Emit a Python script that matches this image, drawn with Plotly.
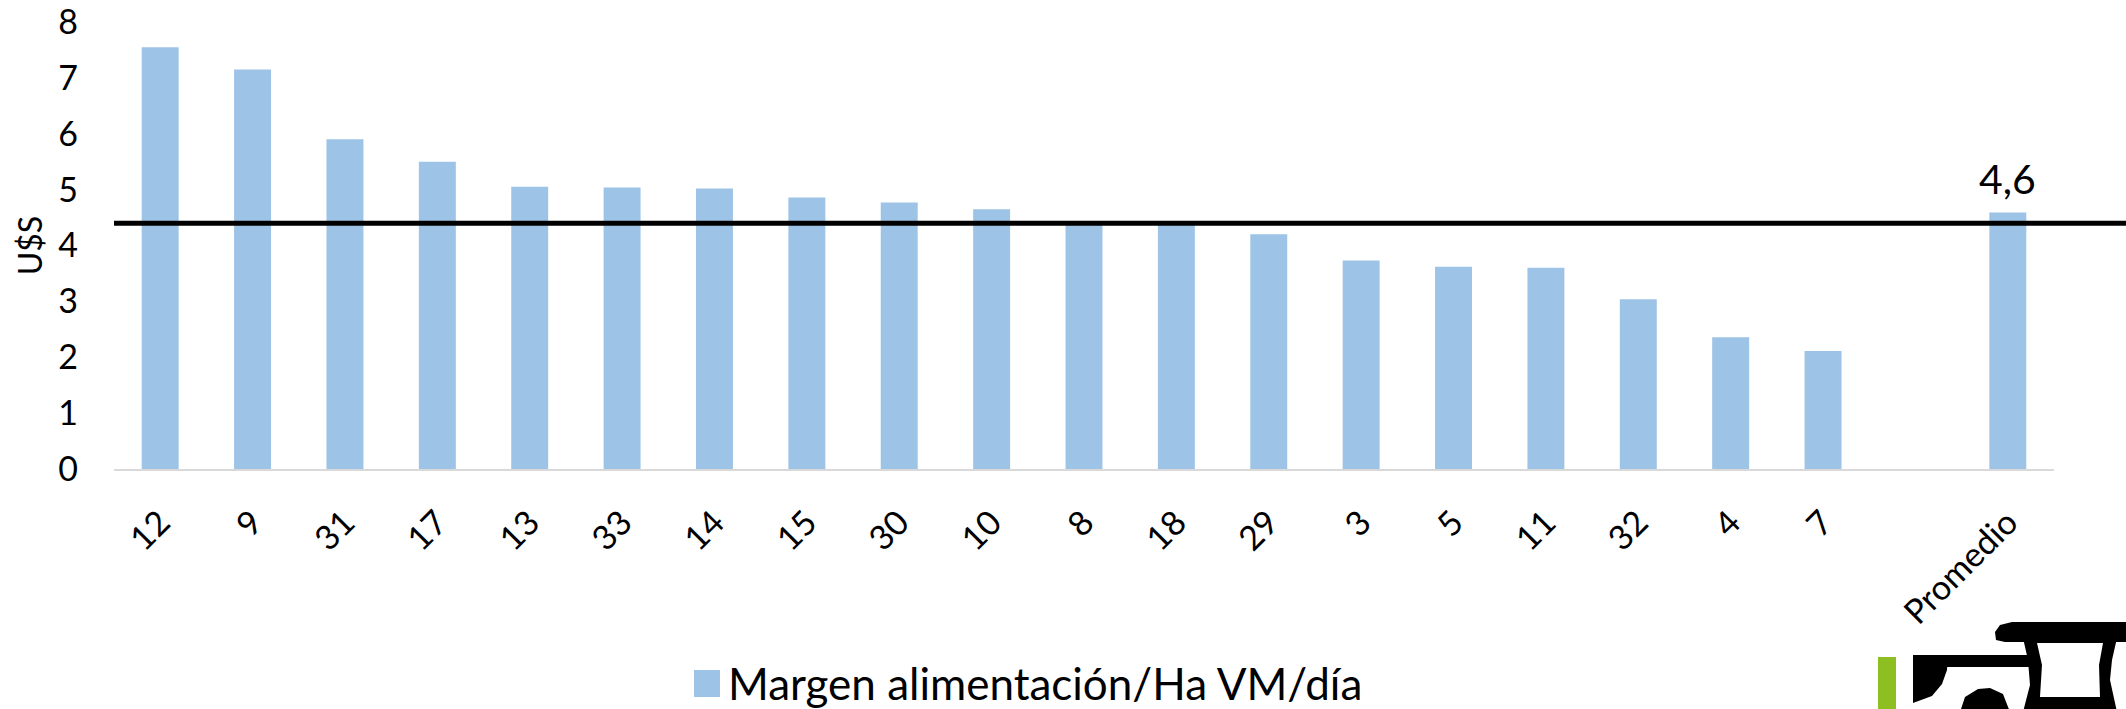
import plotly.graph_objects as go

# ---- data ----
categories = ["12", "9", "31", "17", "13", "33", "14", "15", "30", "10",
              "8", "18", "29", "3", "5", "11", "32", "4", "7", " ", "Promedio"]
margen_values = [7.55, 7.15, 5.90, 5.50, 5.05, 5.04, 5.02, 4.86, 4.77, 4.65,
                 4.42, 4.40, 4.20, 3.73, 3.62, 3.60, 3.04, 2.36, 2.11, None, 4.59]
series_name = "Margen alimentación/Ha VM/día"
reference_line_value = 4.4
promedio_label = "4,6"
y_axis_title = "U$S"
y_ticks = [0, 1, 2, 3, 4, 5, 6, 7, 8]

# ---- layout geometry (screen pixels) ----
W, H = 2126, 709
PL, PR, PT, PB = 114, 2054, 22, 469   # plot area in screen pixels
L, T = PL, PT
R, B = W - PR, H - PB
PW, PH = PR - PL, PB - PT

def px(x):
    return (x - PL) / PW

def py(y):
    return (PB - y) / PH

FONT = "Lato"
BAR_COLOR = "#9DC3E6"

fig = go.Figure()
fig.add_trace(go.Bar(
    x=categories, y=margen_values, name=series_name,
    marker=dict(color=BAR_COLOR, line=dict(width=0)),
    width=0.4, showlegend=True,
))

shapes = [
    dict(type="line", xref="paper", yref="y", x0=0, x1=px(W + 5),
         y0=reference_line_value, y1=reference_line_value,
         line=dict(color="black", width=5), layer="above"),
]

# logo approximation (decoration, bottom-right)
def rect(x0, y0, x1, y1, color):
    return dict(type="rect", xref="paper", yref="paper", x0=px(x0), x1=px(x1),
                y0=py(y1), y1=py(y0), fillcolor=color, line=dict(width=0), layer="above")

def path(points, color):
    d = "M " + " L ".join(f"{px(a):.5f},{py(b):.5f}" for a, b in points) + " Z"
    return dict(type="path", xref="paper", yref="paper", path=d,
                fillcolor=color, line=dict(width=0), layer="above")

shapes += [
    rect(1878, 657, 1896, 712, "#8DBE22"),
    rect(1913, 655, 2030, 667, "black"),
    path([(1913, 655), (1948, 655), (1947, 670), (1942, 684), (1932, 696), (1913, 703)], "black"),
    path([(1995, 632), (2000, 625), (2012, 622), (2130, 622), (2130, 642), (2005, 642), (1996, 640)], "black"),
    path([(2023, 638), (2117, 638), (2112, 660), (2110, 680), (2117, 712), (2023, 712),
          (2030, 685), (2028, 660)], "black"),
    path([(2037, 643), (2103, 643), (2099, 665), (2100, 697), (2040, 697), (2042, 665)], "white"),
    path([(1960, 712), (1965, 697), (1978, 689), (1990, 688), (2003, 694), (2010, 712)], "black"),
    # enlarged legend swatch (matches the large square of the original legend)
    rect(694, 670, 720, 697, BAR_COLOR),
]

annotations = [
    dict(x="Promedio", y=margen_values[-1], xref="x", yref="y", text=promedio_label,
         showarrow=False, yanchor="bottom", yshift=8,
         font=dict(family=FONT, size=41, color="black")),
]

fig.update_layout(
    width=W, height=H,
    margin=dict(l=L, r=R, t=T, b=B, pad=0, autoexpand=False),
    paper_bgcolor="white", plot_bgcolor="white",
    font=dict(family=FONT, color="black"),
    bargap=0.6,
    shapes=shapes,
    annotations=annotations,
    legend=dict(orientation="h", x=px(688), y=py(683), xanchor="left", yanchor="middle",
                font=dict(family=FONT, size=44, color="black"),
                bgcolor="rgba(0,0,0,0)", borderwidth=0),
    xaxis=dict(
        type="category", categoryorder="array", categoryarray=categories,
        tickangle=-45, tickfont=dict(family=FONT, size=34, color="black"),
        showline=True, linecolor="#D9D9D9", linewidth=2,
        ticks="", showgrid=False, zeroline=False, ticklabelstandoff=18,
    ),
    yaxis=dict(
        range=[0, 8], tickvals=y_ticks, showgrid=False, zeroline=False,
        tickfont=dict(family=FONT, size=34, color="black"),
        ticks="", ticklabelstandoff=35, ticklabeloverflow="allow",
        title=dict(text=y_axis_title, font=dict(family=FONT, size=32, color="black"), standoff=6),
    ),
)

# remove the default page margin so the figure fills the window exactly
fig.write_html("out.html", config={"displayModeBar": False},
               post_script="document.body.style.margin='0px';")
